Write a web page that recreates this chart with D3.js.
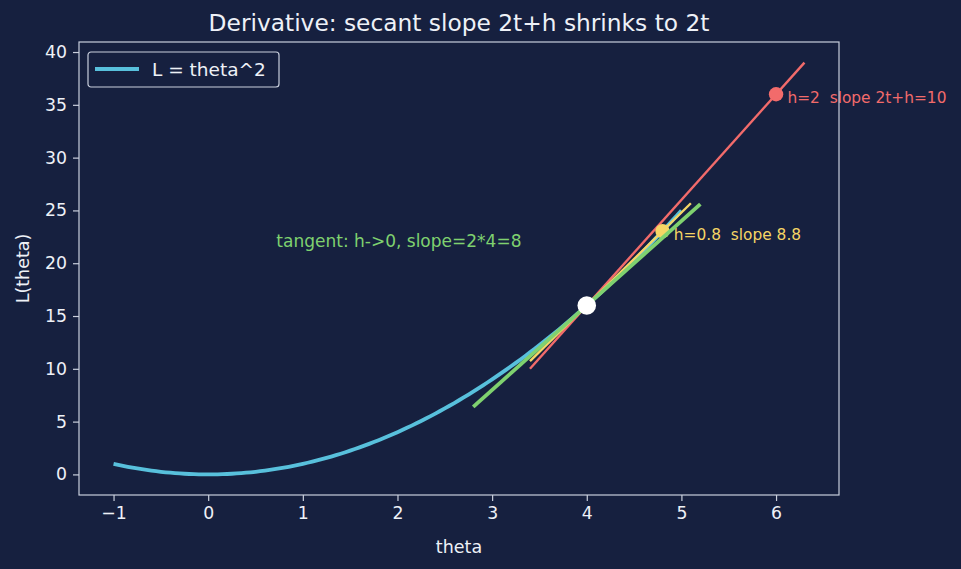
<!DOCTYPE html>
<html><head><meta charset="utf-8">
<script src="https://cdn.jsdelivr.net/npm/d3@7"></script>
<style>
html,body{margin:0;padding:0;background:#16203f;}
svg{display:block;font-family:"DejaVu Sans",sans-serif;}
text{white-space:pre;}
</style></head>
<body>
<svg id="c" width="961" height="569"></svg>
<script>
// ---- data ----
const curveThetaStart = -1, curveThetaEnd = 5, curveStep = 0.05;
const thetaPoint = 4;
const secantH = [2, 0.8];
const secantColors = ["#f26b6b", "#f5d565"];
const secantLabels = ["h=2  slope 2t+h=10", "h=0.8  slope 8.8"];
const tangentRange = [2.8, 5.2];
const secantLeft = 3.4;
const secantExtra = 0.3;
const tangentLabel = "tangent: h->0, slope=2*4=8";
const tangentLabelPos = [0.72, 22.3];
const xTicks = [-1, 0, 1, 2, 3, 4, 5, 6];
const yTicks = [0, 5, 10, 15, 20, 25, 30, 35, 40];
const xDomain = [-1.365, 6.665];
const yDomain = [-1.95, 40.95];

const L = t => t * t;
const curve = d3.range(curveThetaStart, curveThetaEnd + 1e-9, curveStep).map(t => [t, L(t)]);

// ---- layout ----
const bg = "#16203f", fg = "#eef1f7", spine = "#c9cfdd";
const m = {l: 79, r: 839, t: 42, b: 495};
const svg = d3.select("#c");
svg.append("rect").attr("width", 961).attr("height", 569).attr("fill", bg);
const x = d3.scaleLinear().domain(xDomain).range([m.l, m.r]);
const y = d3.scaleLinear().domain(yDomain).range([m.b, m.t]);

const plot = svg.append("g");
const line = d3.line().x(d => x(d[0])).y(d => y(d[1]));

// curve
plot.append("path").datum(curve).attr("d", line).attr("fill", "none")
  .attr("stroke", "#58c0dc").attr("stroke-width", 3.8).attr("stroke-linejoin", "round");

// secants
secantH.forEach((h, i) => {
  const s = (L(thetaPoint + h) - L(thetaPoint)) / h;
  const x1 = secantLeft, x2 = thetaPoint + h + secantExtra;
  const seg = [[x1, L(thetaPoint) + s * (x1 - thetaPoint)], [x2, L(thetaPoint) + s * (x2 - thetaPoint)]];
  plot.append("path").datum(seg).attr("d", line).attr("fill", "none")
    .attr("stroke", secantColors[i]).attr("stroke-width", 2.4);
  plot.append("circle").attr("cx", x(thetaPoint + h)).attr("cy", y(L(thetaPoint + h)))
    .attr("r", 7.2).attr("fill", secantColors[i]);
  plot.append("text").attr("x", x(thetaPoint + h + 0.12)).attr("y", y(L(thetaPoint + h)) + 8.5)
    .attr("fill", secantColors[i]).attr("font-size", 15.4)
    .text(secantLabels[i]);
});

// tangent
const ts = 2 * thetaPoint;
const tseg = tangentRange.map(t => [t, L(thetaPoint) + ts * (t - thetaPoint)]);
plot.append("path").datum(tseg).attr("d", line).attr("fill", "none")
  .attr("stroke", "#7fd16f").attr("stroke-width", 3.8);
plot.append("text").attr("x", x(tangentLabelPos[0])).attr("y", y(tangentLabelPos[1]) + 8.5)
  .attr("fill", "#7fd16f").attr("font-size", 17).text(tangentLabel);

plot.append("circle").attr("cx", x(thetaPoint)).attr("cy", y(L(thetaPoint)))
  .attr("r", 9.3).attr("fill", "#ffffff");

// axes
const xAxis = svg.append("g").attr("transform", `translate(0,${m.b})`)
  .call(d3.axisBottom(x).tickValues(xTicks).tickSize(6).tickPadding(6).tickFormat(d => d < 0 ? "\u2212" + Math.abs(d) : d));
const yAxis = svg.append("g").attr("transform", `translate(${m.l},0)`)
  .call(d3.axisLeft(y).tickValues(yTicks).tickSize(6).tickPadding(6));
[xAxis, yAxis].forEach(g => {
  g.select(".domain").remove();
  g.selectAll(".tick line").attr("stroke", spine).attr("stroke-width", 1.2);
  g.selectAll(".tick text").attr("fill", fg).attr("font-size", 17.3).attr("font-family", "DejaVu Sans");
});
svg.append("rect").attr("x", m.l).attr("y", m.t).attr("width", m.r - m.l).attr("height", m.b - m.t)
  .attr("fill", "none").attr("stroke", spine).attr("stroke-width", 1.2);

// labels
svg.append("text").attr("x", (m.l + m.r) / 2).attr("y", 553).attr("text-anchor", "middle")
  .attr("fill", fg).attr("font-size", 17.5).text("theta");
svg.append("text").attr("transform", `translate(29,${(m.t + m.b) / 2}) rotate(-90)`)
  .attr("text-anchor", "middle").attr("fill", fg).attr("font-size", 17.5).text("L(theta)");
svg.append("text").attr("x", (m.l + m.r) / 2).attr("y", 31).attr("text-anchor", "middle")
  .attr("fill", fg).attr("font-size", 23.3).text("Derivative: secant slope 2t+h shrinks to 2t");

// legend
const lg = svg.append("g").attr("transform", "translate(88,52)");
lg.append("rect").attr("width", 191).attr("height", 35).attr("rx", 3)
  .attr("fill", bg).attr("stroke", spine).attr("stroke-width", 1.2);
lg.append("line").attr("x1", 7).attr("x2", 51).attr("y1", 17).attr("y2", 17)
  .attr("stroke", "#58c0dc").attr("stroke-width", 3.8);
lg.append("text").attr("x", 64).attr("y", 17).attr("dy", "0.36em").attr("fill", fg)
  .attr("font-size", 18.5).text("L = theta^2");
</script>
</body></html>
